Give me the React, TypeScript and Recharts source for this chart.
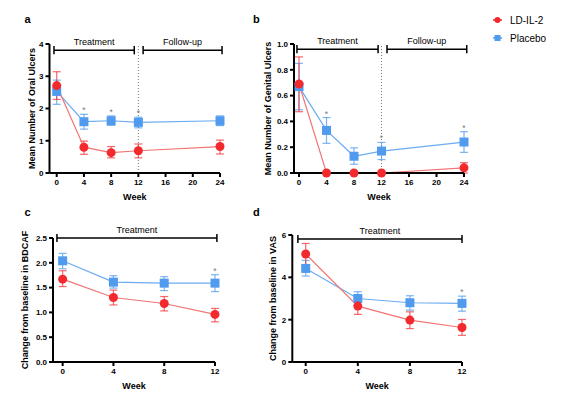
import React from 'react';
import { LineChart, Line, XAxis, YAxis, ErrorBar, ReferenceLine, Label } from 'recharts';

// ---------- data ----------
const weeksLong = [0, 4, 8, 12, 24];
const weeksShort = [0, 4, 8, 12];

const oralLD = [2.71, 0.8, 0.63, 0.69, 0.82];
const oralLDLow = [2.28, 0.58, 0.47, 0.47, 0.59];
const oralLDHigh = [3.14, 0.99, 0.82, 0.9, 1.02];
const oralPL = [2.53, 1.59, 1.62, 1.57, 1.62];
const oralPLLow = [2.13, 1.36, 1.48, 1.4, 1.47];
const oralPLHigh = [2.88, 1.82, 1.77, 1.73, 1.77];
const oralStar = [false, true, true, true, false];

const genLD = [0.69, 0, 0, 0, 0.04];
const genLDLow = [0.475, 0, 0, 0, 0.0];
const genLDHigh = [0.9, 0, 0, 0, 0.08];
const genPL = [0.67, 0.33, 0.13, 0.17, 0.24];
const genPLLow = [0.49, 0.23, 0.068, 0.104, 0.16];
const genPLHigh = [0.85, 0.43, 0.195, 0.237, 0.32];
const genStar = [false, true, false, true, true];

const bdcafLD = [1.67, 1.3, 1.18, 0.96];
const bdcafLDLow = [1.52, 1.15, 1.03, 0.81];
const bdcafLDHigh = [1.84, 1.45, 1.32, 1.08];
const bdcafPL = [2.04, 1.61, 1.59, 1.59];
const bdcafPLLow = [1.88, 1.49, 1.44, 1.42];
const bdcafPLHigh = [2.19, 1.74, 1.72, 1.76];
const bdcafStar = [false, false, false, true];

const vasLD = [5.1, 2.64, 1.98, 1.63];
const vasLDLow = [4.58, 2.25, 1.58, 1.26];
const vasLDHigh = [5.6, 3.0, 2.37, 2.01];
const vasPL = [4.42, 3.0, 2.8, 2.77];
const vasPLLow = [4.06, 2.69, 2.45, 2.4];
const vasPLHigh = [4.8, 3.32, 3.13, 3.11];
const vasStar = [false, false, false, true];

const ticksLong = [0, 4, 8, 12, 16, 20, 24];
const ticksShort = [0, 4, 8, 12];
const yTicksA = [0, 1, 2, 3, 4];
const yTicksB = [0, 0.2, 0.4, 0.6, 0.8, 1.0];
const yTicksC = [0, 0.5, 1.0, 1.5, 2.0, 2.5];
const yTicksD = [0, 2, 4, 6];

const RED = '#F22A2E';
const RED_LINE = '#F27474';
const BLUE = '#519BEE';
const BLUE_LINE = '#6AABF2';
const FONT = '"Liberation Sans", Arial, sans-serif';

function build(weeks, ld, ldLo, ldHi, pl, plLo, plHi, star) {
  return weeks.map((w, i) => ({
    week: w,
    ld: ld[i],
    ldErr: [ld[i] - ldLo[i], ldHi[i] - ld[i]],
    pl: pl[i],
    plErr: [pl[i] - plLo[i], plHi[i] - pl[i]],
    star: star[i] ? plHi[i] : null,
  }));
}

const SquareDot = (props: any) => {
  const { cx, cy, index } = props;
  if (cx == null || cy == null) return <g key={'s' + index} />;
  return <rect key={'s' + index} x={cx - 4.5} y={cy - 4.5} width={9} height={9} fill={BLUE} />;
};

const StarDot = (props: any) => {
  const { cx, cy, index, value } = props;
  if (value == null || cy == null || isNaN(cy)) return <g key={'st' + index} />;
  return (
    <text key={'st' + index} x={cx} y={cy - 1} textAnchor="middle" fontSize={8.5} fill="#7a7a7a" fontFamily={FONT}>
      *
    </text>
  );
};

const tickStyle = { fontSize: 8, fontWeight: 700, fill: '#000', fontFamily: FONT };

type Bracket = { x1: number; x2: number; y: number; cap: number; text: string };

function Panel(props: any) {
  const {
    left, top, width, height, margin, yWidth, xDomain, yDomain, xTicks, yTicks, yFmt,
    data, yTitle, titleDx, brackets, dotted,
  } = props;
  return (
    <div style={{ position: 'absolute', left, top, width, height }}>
      <LineChart width={width} height={height} data={data} margin={margin}>
        <XAxis
          dataKey="week"
          type="number"
          domain={xDomain}
          ticks={xTicks}
          tick={tickStyle}
          tickSize={4}
          height={48}
          stroke="#000"
          strokeWidth={2}
          tickLine={{ stroke: '#000', strokeWidth: 2 }}
          interval={0}
        >
          <Label value="Week" position="center" style={{ fontSize: 9, fontWeight: 700, fill: '#000', fontFamily: FONT }} />
        </XAxis>
        <YAxis
          type="number"
          domain={yDomain}
          ticks={yTicks}
          tick={tickStyle}
          tickFormatter={yFmt}
          tickSize={4}
          width={yWidth}
          stroke="#000"
          strokeWidth={2}
          tickLine={{ stroke: '#000', strokeWidth: 2 }}
          interval={0}
        >
          <Label
            value={yTitle}
            angle={-90}
            position="center"
            dx={titleDx}
            style={{ fontSize: 9, fontWeight: 700, fill: '#000', fontFamily: FONT, textAnchor: 'middle' }}
          />
        </YAxis>
        {dotted && (
          <ReferenceLine x={12} stroke="#777" strokeWidth={1} strokeDasharray="1 2" ifOverflow="visible" />
        )}
        {brackets.map((b: Bracket, i: number) => (
          <ReferenceLine
            key={'b' + i}
            segment={[{ x: b.x1, y: b.y }, { x: b.x2, y: b.y }]}
            stroke="#000"
            strokeWidth={1.5}
            ifOverflow="visible"
            label={{ value: b.text, position: 'top', offset: 5, fontSize: 9, fill: '#000', fontFamily: FONT }}
          />
        ))}
        {brackets.map((b: Bracket, i: number) => (
          <ReferenceLine
            key={'c1' + i}
            segment={[{ x: b.x1, y: b.y - b.cap }, { x: b.x1, y: b.y + b.cap }]}
            stroke="#000"
            strokeWidth={1.5}
            ifOverflow="visible"
          />
        ))}
        {brackets.map((b: Bracket, i: number) => (
          <ReferenceLine
            key={'c2' + i}
            segment={[{ x: b.x2, y: b.y - b.cap }, { x: b.x2, y: b.y + b.cap }]}
            stroke="#000"
            strokeWidth={1.5}
            ifOverflow="visible"
          />
        ))}
        <Line
          dataKey="pl"
          stroke={BLUE_LINE}
          strokeWidth={1.2}
          dot={SquareDot}
          activeDot={false}
          isAnimationActive={false}
        >
          <ErrorBar dataKey="plErr" direction="y" width={4} stroke={BLUE} strokeOpacity={0.75} strokeWidth={1.2} />
        </Line>
        <Line
          dataKey="ld"
          stroke={RED_LINE}
          strokeWidth={1.2}
          dot={{ r: 4.5, fill: RED, stroke: 'none' }}
          activeDot={false}
          isAnimationActive={false}
        >
          <ErrorBar dataKey="ldErr" direction="y" width={4} stroke={RED} strokeOpacity={0.7} strokeWidth={1.2} />
        </Line>
        <Line
          dataKey="star"
          stroke="none"
          dot={StarDot}
          activeDot={false}
          isAnimationActive={false}
          connectNulls={false}
        />
      </LineChart>
    </div>
  );
}

const fmt1 = (v: number) => v.toFixed(1);
const fmt0 = (v: number) => String(v);

export default function App() {
  const dataA = build(weeksLong, oralLD, oralLDLow, oralLDHigh, oralPL, oralPLLow, oralPLHigh, oralStar);
  const dataB = build(weeksLong, genLD, genLDLow, genLDHigh, genPL, genPLLow, genPLHigh, genStar);
  const dataC = build(weeksShort, bdcafLD, bdcafLDLow, bdcafLDHigh, bdcafPL, bdcafPLLow, bdcafPLHigh, bdcafStar);
  const dataD = build(weeksShort, vasLD, vasLDLow, vasLDHigh, vasPL, vasPLLow, vasPLHigh, vasStar);

  return (
    <div style={{ position: 'absolute', left: 0, top: 0, width: 562, height: 399, background: '#fff', fontFamily: FONT }}>
      <Panel
        left={0} top={0} width={240} height={221}
        margin={{ top: 44, right: 20, left: 0, bottom: 0 }}
        yWidth={49.5}
        xDomain={[-1.06, 24]} yDomain={[0, 4]}
        xTicks={ticksLong} yTicks={yTicksA} yFmt={fmt0}
        data={dataA}
        yTitle="Mean Number of Oral Ulcers" titleDx={7}
        dotted
        brackets={[
          { x1: -0.4, x2: 11.4, y: 3.81, cap: 0.13, text: 'Treatment' },
          { x1: 12.7, x2: 24.3, y: 3.81, cap: 0.13, text: 'Follow-up' },
        ]}
      />
      <Panel
        left={230} top={0} width={250} height={221}
        margin={{ top: 44, right: 16, left: 0, bottom: 0 }}
        yWidth={64}
        xDomain={[-0.73, 24]} yDomain={[0, 1]}
        xTicks={ticksLong} yTicks={yTicksB} yFmt={fmt1}
        data={dataB}
        yTitle="Mean Number of Genital Ulcers" titleDx={5.7}
        dotted
        brackets={[
          { x1: -0.3, x2: 11.5, y: 0.96, cap: 0.032, text: 'Treatment' },
          { x1: 12.8, x2: 24.4, y: 0.96, cap: 0.032, text: 'Follow-up' },
        ]}
      />
      <Panel
        left={0} top={195} width={240} height={215}
        margin={{ top: 43, right: 25, left: 0, bottom: 0 }}
        yWidth={53}
        xDomain={[-0.76, 12]} yDomain={[0, 2.5]}
        xTicks={ticksShort} yTicks={yTicksC} yFmt={fmt1}
        data={dataC}
        yTitle="Change from baseline in BDCAF" titleDx={-1.5}
        brackets={[{ x1: -0.45, x2: 12.15, y: 2.5, cap: 0.08, text: 'Treatment' }]}
      />
      <Panel
        left={230} top={195} width={250} height={215}
        margin={{ top: 40, right: 18, left: 0, bottom: 0 }}
        yWidth={62.3}
        xDomain={[-1.03, 12]} yDomain={[0, 6]}
        xTicks={ticksShort} yTicks={yTicksD} yFmt={fmt0}
        data={dataD}
        yTitle="Change from baseline in VAS" titleDx={11.8}
        brackets={[{ x1: -0.6, x2: 12, y: 5.81, cap: 0.19, text: 'Treatment' }]}
      />
      <svg width={562} height={399} style={{ position: 'absolute', left: 0, top: 0, pointerEvents: 'none' }}>
        <g fontFamily={FONT} fontWeight={700} fontSize={11} fill="#000">
          <text x={24.5} y={23}>a</text>
          <text x={253} y={23}>b</text>
          <text x={24.5} y={216}>c</text>
          <text x={253} y={216}>d</text>
        </g>
        <line x1={493} x2={502} y1={20} y2={20} stroke={RED} strokeWidth={1.5} />
        <circle cx={497.5} cy={20} r={3} fill={RED} />
        <text x={510} y={23.5} fontSize={10} fontFamily={FONT} fill="#000">LD-IL-2</text>
        <line x1={493} x2={502} y1={38} y2={38} stroke={BLUE} strokeWidth={1.5} />
        <rect x={494.5} y={35} width={6} height={6} fill={BLUE} />
        <text x={510} y={41.5} fontSize={10} fontFamily={FONT} fill="#000">Placebo</text>
      </svg>
    </div>
  );
}
